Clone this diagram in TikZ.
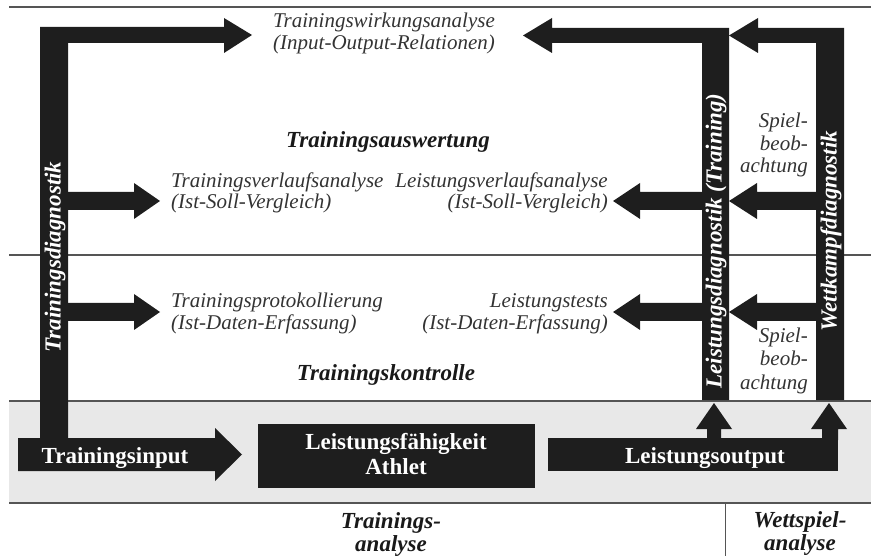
\documentclass[tikz,border=0pt]{standalone}
\usepackage{fontspec}
\setmainfont{Liberation Serif}
\definecolor{barcol}{HTML}{1E1E1E}
\definecolor{bandcol}{HTML}{E8E8E8}
\definecolor{rulecol}{HTML}{555555}
\definecolor{txtgray}{HTML}{333333}
\begin{document}
\begin{tikzpicture}[x=1pt,y=-1pt,
  bar/.style={fill=barcol},
  rule/.style={draw=rulecol,line width=1.3pt},
  itx/.style={font=\fontsize{21}{22}\selectfont\itshape,text=txtgray,inner sep=0pt,anchor=base},
  bix/.style={font=\fontsize{23}{24}\selectfont\bfseries\itshape,text=black!90,inner sep=0pt,anchor=base},
  wbx/.style={font=\fontsize{23}{24}\selectfont\bfseries,text=white,inner sep=0pt,anchor=base},
  rotx/.style={font=\fontsize{23}{24}\selectfont\bfseries\itshape,text=white,inner sep=0pt,rotate=90,anchor=center}]
\useasboundingbox (0,0) rectangle (871,556);

% horizontal rules and the grey band
\draw[rule] (9,7) -- (871,7);
\draw[rule] (9,255) -- (871,255);
\fill[bandcol] (9,401) rectangle (871,503);
\draw[rule] (9,401) -- (871,401);
\draw[rule] (9,503) -- (871,503);
\draw[draw=rulecol,line width=1pt] (725,503) -- (725,556);

% left bar with its top arm (Trainingsdiagnostik)
\fill[bar] (40,27) -- (224,27) -- (224,18) -- (252,35) -- (224,53) -- (224,43)
  -- (68,43) -- (68,440) -- (40,440) -- cycle;
\fill[bar] (60,192) -- (134,192) -- (134,183) -- (160,201) -- (134,219) -- (134,210) -- (60,210) -- cycle;
\fill[bar] (60,303) -- (134,303) -- (134,294) -- (160,312) -- (134,330) -- (134,321) -- (60,321) -- cycle;

% Leistungsdiagnostik bar
\fill[bar] (729,28) -- (552,28) -- (552,18) -- (523,35.5) -- (552,53) -- (552,43)
  -- (702,43) -- (702,400) -- (729,400) -- cycle;
\fill[bar] (710,192) -- (640,192) -- (640,183) -- (613,201) -- (640,219) -- (640,210) -- (710,210) -- cycle;
\fill[bar] (710,303) -- (640,303) -- (640,294) -- (613,312) -- (640,330) -- (640,321) -- (710,321) -- cycle;

% Wettkampfdiagnostik bar
\fill[bar] (844,28) -- (758,28) -- (758,18) -- (729,35.5) -- (758,53) -- (758,43)
  -- (816,43) -- (816,400) -- (844,400) -- cycle;
\fill[bar] (824,192) -- (757,192) -- (757,183) -- (729,201) -- (757,219) -- (757,210) -- (824,210) -- cycle;
\fill[bar] (824,303) -- (757,303) -- (757,294) -- (729,312) -- (757,330) -- (757,321) -- (824,321) -- cycle;

% bottom row: input arrow, athlete box, output with two up arrows
\fill[bar] (18,438) -- (215,438) -- (215,428) -- (242,454.5) -- (215,481) -- (215,471) -- (18,471) -- cycle;
\fill[bar] (258,424) rectangle (535,488);
\fill[bar] (548,438) rectangle (838,471);
\fill[bar] (707,440) -- (707,429) -- (696,429) -- (714,403) -- (732,429) -- (721,429) -- (721,440) -- cycle;
\fill[bar] (822,440) -- (822,429) -- (811,429) -- (829,403) -- (847,429) -- (838,429) -- (838,440) -- cycle;

% rotated bar labels
\node[rotx] (tdiag) at (55,257) {Trainingsdiagnostik};
\node[rotx] (ldiag) at (716,241) {Leistungsdiagnostik (Training)};
\node[rotx] (wdiag) at (831,231) {Wettkampfdiagnostik};

% analysis and control texts
\node[itx] (wirk1) at (384,28) {Trainingswirkungsanalyse};
\node[itx] (wirk2) at (384,50) {(Input-Output-Relationen)};
\node[bix] (ausw) at (388,148) {Trainingsauswertung};
\node[itx,anchor=base west] (tv1) at (171,188) {Trainingsverlaufsanalyse};
\node[itx,anchor=base west] (tv2) at (171,209) {(Ist-Soll-Vergleich)};
\node[itx,anchor=base east] (lv1) at (608,188) {Leistungsverlaufsanalyse};
\node[itx,anchor=base east] (lv2) at (608,209) {(Ist-Soll-Vergleich)};
\node[itx,anchor=base west] (tp1) at (171,308) {Trainingsprotokollierung};
\node[itx,anchor=base west] (tp2) at (171,330) {(Ist-Daten-Erfassung)};
\node[itx,anchor=base east] (lt1) at (608,308) {Leistungstests};
\node[itx,anchor=base east] (lt2) at (608,330) {(Ist-Daten-Erfassung)};
\node[bix] (kontr) at (386,381) {Trainingskontrolle};

% Spielbeobachtung labels between the right bars
\node[itx,anchor=base east] (sa1) at (808,128) {Spiel-};
\node[itx,anchor=base east] (sa2) at (808,151) {beob-};
\node[itx,anchor=base east] (sa3) at (808,173) {achtung};
\node[itx,anchor=base east] (sb1) at (808,343) {Spiel-};
\node[itx,anchor=base east] (sb2) at (808,366) {beob-};
\node[itx,anchor=base east] (sb3) at (808,389) {achtung};

% labels in the bottom row
\node[wbx] (tin) at (115,463) {Trainingsinput};
\node[wbx] (lf1) at (396,449) {Leistungsfähigkeit};
\node[wbx] (lf2) at (396,474) {Athlet};
\node[wbx] (lout) at (705,463) {Leistungsoutput};

% captions under the band
\node[bix] (ta1) at (391,528) {Trainings-};
\node[bix] (ta2) at (391,551) {analyse};
\node[bix] (wa1) at (800,527) {Wettspiel-};
\node[bix] (wa2) at (800,550) {analyse};
\end{tikzpicture}
\end{document}
